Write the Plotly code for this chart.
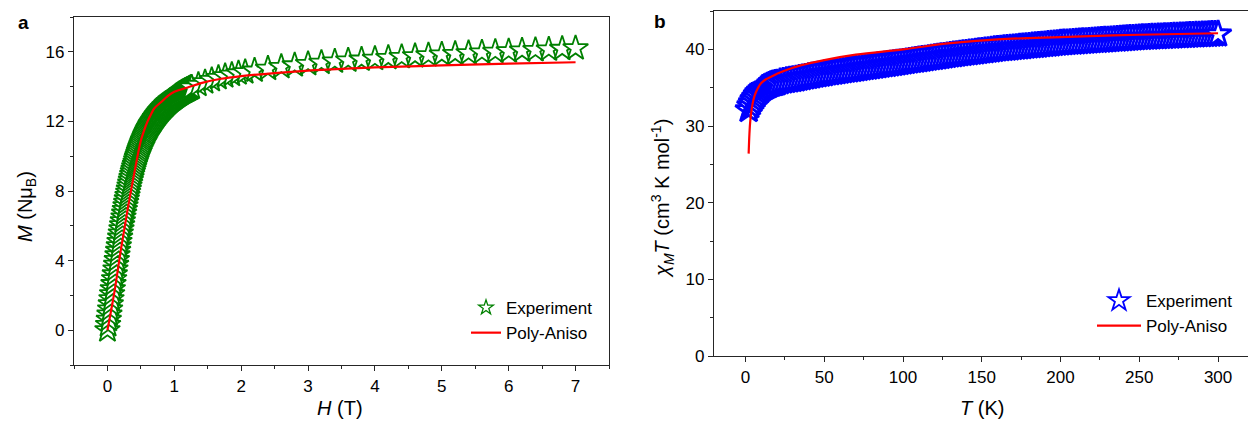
import plotly.graph_objects as go

# ---------------- Panel a: M vs H ----------------
H_exp = [0.00, 0.01, 0.02, 0.03, 0.04, 0.05, 0.06, 0.07, 0.08, 0.09,
         0.10, 0.11, 0.12, 0.13, 0.14, 0.15, 0.16, 0.17, 0.18, 0.19,
         0.20, 0.21, 0.22, 0.23, 0.24, 0.25, 0.26, 0.27, 0.28, 0.29,
         0.30, 0.31, 0.32, 0.33, 0.34, 0.35, 0.36, 0.37, 0.38, 0.39,
         0.40, 0.41, 0.42, 0.43, 0.44, 0.45, 0.46, 0.47, 0.48, 0.49,
         0.50, 0.51, 0.52, 0.53, 0.54, 0.55, 0.56, 0.57, 0.58, 0.59,
         0.60, 0.61, 0.62, 0.63, 0.64, 0.65, 0.66, 0.67, 0.68, 0.69,
         0.70, 0.71, 0.72, 0.73, 0.74, 0.75, 0.76, 0.77, 0.78, 0.79,
         0.80, 0.81, 0.82, 0.83, 0.84, 0.85, 0.86, 0.87, 0.88, 0.89,
         0.90, 0.91, 0.92, 0.93, 0.94, 0.95, 0.96, 0.97, 0.98, 0.99,
         1.00, 1.01, 1.02, 1.03, 1.04, 1.05, 1.06, 1.07, 1.08, 1.09,
         1.10, 1.11, 1.12, 1.13, 1.14, 1.15, 1.16, 1.17, 1.18, 1.19,
         1.20, 1.21, 1.22, 1.23, 1.24, 1.25, 1.26,
         1.36, 1.46, 1.56, 1.66, 1.76, 1.86, 1.96, 2.06,
         2.2, 2.4, 2.6, 2.8, 3.0, 3.2, 3.4, 3.6, 3.8, 4.0,
         4.2, 4.4, 4.6, 4.8, 5.0, 5.2, 5.4, 5.6, 5.8, 6.0,
         6.2, 6.4, 6.6, 6.8, 7.0]
M_exp = [0.00, 0.30, 0.60, 0.90, 1.19, 1.49, 1.78, 2.07, 2.36, 2.65,
         2.93, 3.21, 3.49, 3.76, 4.03, 4.30, 4.56, 4.82, 5.07, 5.32,
         5.56, 5.80, 6.03, 6.26, 6.48, 6.70, 6.91, 7.12, 7.32, 7.52,
         7.71, 7.90, 8.08, 8.26, 8.43, 8.60, 8.76, 8.92, 9.07, 9.22,
         9.36, 9.50, 9.63, 9.76, 9.89, 10.01, 10.13, 10.25, 10.36, 10.47,
         10.57, 10.67, 10.77, 10.87, 10.96, 11.05, 11.14, 11.23, 11.31, 11.39,
         11.47, 11.55, 11.62, 11.69, 11.76, 11.83, 11.89, 11.95, 12.01, 12.07,
         12.13, 12.19, 12.24, 12.30, 12.35, 12.40, 12.45, 12.50, 12.55, 12.60,
         12.64, 12.69, 12.73, 12.77, 12.81, 12.85, 12.89, 12.93, 12.97, 13.01,
         13.04, 13.08, 13.11, 13.15, 13.18, 13.21, 13.24, 13.27, 13.30, 13.33,
         13.36, 13.39, 13.42, 13.45, 13.47, 13.50, 13.52, 13.55, 13.57, 13.60,
         13.62, 13.65, 13.67, 13.69, 13.71, 13.73, 13.75, 13.77, 13.79, 13.81,
         13.83, 13.85, 13.87, 13.89, 13.91, 13.93, 13.95,
         14.10, 14.25, 14.38, 14.50, 14.60, 14.68, 14.76, 14.83,
         14.92, 15.03, 15.13, 15.22, 15.30, 15.37, 15.44, 15.50, 15.55, 15.60,
         15.65, 15.70, 15.75, 15.80, 15.84, 15.88, 15.92, 15.96, 16.00, 16.03,
         16.07, 16.10, 16.13, 16.17, 16.20]

H_fit = [0, 0.1, 0.2, 0.3, 0.4, 0.5, 0.55, 0.6, 0.65, 0.7, 0.8, 0.9, 1.0,
         1.2, 1.4, 1.7, 2.0, 2.5, 3.0, 3.5, 4.0, 5.0, 6.0, 7.0]
M_fit = [0, 2.1, 4.6, 6.9, 9.0, 10.9, 11.5, 12.0, 12.4, 12.75, 13.1, 13.45, 13.7,
         13.95, 14.2, 14.45, 14.6, 14.78, 14.92, 15.02, 15.1, 15.22, 15.32, 15.4]

# ---------------- Panel b: chiM*T vs T ----------------
T_exp = [2, 3, 4, 5, 6, 7, 8, 9, 10, 11, 12, 13, 14, 15, 16, 17, 18, 19, 20,
         22, 24, 26, 28, 30, 32, 34, 36, 38, 40, 42, 44, 46, 48, 50,
         52, 54, 56, 58, 60, 62, 64, 66, 68, 70, 72, 74, 76, 78, 80,
         82, 84, 86, 88, 90, 92, 94, 96, 98, 100,
         102, 104, 106, 108, 110, 112, 114, 116, 118, 120, 122, 124, 126,
         128, 130, 132, 134, 136, 138, 140, 142, 144, 146, 148, 150,
         152, 154, 156, 158, 160, 162, 164, 166, 168, 170, 172, 174, 176,
         178, 180, 182, 184, 186, 188, 190, 192, 194, 196, 198, 200,
         202, 204, 206, 208, 210, 212, 214, 216, 218, 220, 222, 224, 226,
         228, 230, 232, 234, 236, 238, 240, 242, 244, 246, 248, 250,
         252, 254, 256, 258, 260, 262, 264, 266, 268, 270, 272, 274, 276,
         278, 280, 282, 284, 286, 288, 290, 292, 294, 296, 298, 300]
chiT_exp = [32.1, 32.6, 33.0, 33.4, 33.7, 34.0, 34.3, 34.5, 34.7, 34.9, 35.0,
            35.1, 35.2, 35.3, 35.4, 35.45, 35.5, 35.55, 35.6,
            35.75, 35.82, 35.9, 35.97, 36.03,
            36.1, 36.2, 36.27, 36.35, 36.42, 36.5, 36.57, 36.64, 36.71, 36.78,
            36.86, 36.92, 36.98, 37.04, 37.1, 37.16, 37.22, 37.28, 37.34, 37.4,
            37.46, 37.52, 37.58, 37.64, 37.7, 37.76, 37.82, 37.88, 37.94, 38.0,
            38.06, 38.12, 38.18, 38.24, 38.3,
            38.37, 38.43, 38.49, 38.55, 38.61, 38.67, 38.73, 38.79, 38.85, 38.91,
            38.97, 39.03, 39.09, 39.15, 39.21,
            39.26, 39.31, 39.37, 39.42, 39.47, 39.52, 39.57, 39.63, 39.68, 39.73,
            39.78, 39.83, 39.89, 39.94, 39.99,
            40.03, 40.07, 40.11, 40.15, 40.19, 40.23, 40.27, 40.31, 40.35, 40.39,
            40.43, 40.47, 40.51, 40.55, 40.59, 40.63, 40.67, 40.71, 40.75, 40.79,
            40.82, 40.85, 40.87, 40.9, 40.93, 40.96, 40.99, 41.01, 41.04, 41.07,
            41.1, 41.13, 41.15, 41.18, 41.21, 41.24, 41.27, 41.29, 41.32, 41.35,
            41.38, 41.41, 41.43, 41.46, 41.49,
            41.51, 41.53, 41.55, 41.57, 41.59, 41.61, 41.63, 41.64, 41.66, 41.68,
            41.7, 41.72, 41.74, 41.76, 41.78, 41.8, 41.82, 41.83, 41.85, 41.87,
            41.89, 41.91, 41.93, 41.95, 41.97]

T_fit = [2, 2.5, 3, 4, 5, 6, 8, 10, 13, 16, 20, 26, 35, 50, 70, 100, 130, 160,
         200, 250, 300]
chiT_fit = [26.4, 29.0, 30.6, 32.3, 33.4, 34.1, 35.0, 35.6, 36.1, 36.4, 36.8,
            37.3, 37.9, 38.6, 39.3, 40.0, 40.8, 41.3, 41.6, 41.9, 42.1]

legend_names = ["Experiment", "Poly-Aniso"]

FONT = "Liberation Sans, Arial, sans-serif"
AX = "#262626"
TXT = "#000000"
GREEN = "#008000"
BLUE = "#0000FF"
RED = "#FF0000"

fig = go.Figure()

# data traces
fig.add_trace(go.Scatter(
    x=H_exp, y=M_exp, mode="markers", name=legend_names[0], showlegend=False,
    marker=dict(symbol="star", size=19, color="white",
                line=dict(color=GREEN, width=1.8)),
    xaxis="x", yaxis="y"))
fig.add_trace(go.Scatter(
    x=H_fit, y=M_fit, mode="lines", name=legend_names[1], showlegend=False,
    line=dict(color=RED, width=2.2, shape="spline"),
    xaxis="x", yaxis="y"))
fig.add_trace(go.Scatter(
    x=T_exp, y=chiT_exp, mode="markers", name=legend_names[0], showlegend=False,
    marker=dict(symbol="star", size=20, color="white",
                line=dict(color=BLUE, width=2.8)),
    xaxis="x2", yaxis="y2"))
fig.add_trace(go.Scatter(
    x=T_fit, y=chiT_fit, mode="lines", name=legend_names[1], showlegend=False,
    line=dict(color=RED, width=2.2, shape="spline"),
    xaxis="x2", yaxis="y2"))

# legend-only entries (no data points)
fig.add_trace(go.Scatter(
    x=[None], y=[None], mode="markers", name=legend_names[0],
    marker=dict(symbol="star-open", size=11, color=GREEN, line=dict(width=1.3)),
    xaxis="x", yaxis="y", legend="legend"))
fig.add_trace(go.Scatter(
    x=[None], y=[None], mode="lines", name=legend_names[1],
    line=dict(color=RED, width=2.2), xaxis="x", yaxis="y", legend="legend"))
fig.add_trace(go.Scatter(
    x=[None], y=[None], mode="markers", name=legend_names[0],
    marker=dict(symbol="star", size=16, color="white",
                line=dict(color=BLUE, width=1.8)),
    xaxis="x2", yaxis="y2", legend="legend2"))
fig.add_trace(go.Scatter(
    x=[None], y=[None], mode="lines", name=legend_names[1],
    line=dict(color=RED, width=2.2), xaxis="x2", yaxis="y2", legend="legend2"))

tickfont = dict(family=FONT, size=17, color=TXT)


def base_axis(**kw):
    d = dict(showgrid=False, zeroline=False, showline=True, linecolor=AX,
             linewidth=1.4, ticks="outside", ticklen=5, tickwidth=1.2,
             tickcolor=AX, tickfont=tickfont, mirror=True)
    d.update(kw)
    return d


def inner_axis(**kw):
    d = dict(showgrid=False, zeroline=False, showline=False,
             ticks="inside", ticklen=5, tickwidth=1.2, tickcolor=AX,
             showticklabels=False)
    d.update(kw)
    return d


xa_dom = [74 / 1248, 609 / 1248]
ya_dom = [1 - 365 / 421, 1 - 17 / 421]
xb_dom = [714 / 1248, 1.0]
yb_dom = [1 - 356 / 421, 1 - 11 / 421]


def minor_out(dt):
    return dict(ticks="outside", ticklen=3, tickwidth=1.2, tickcolor=AX, dtick=dt)


def minor_in(dt):
    return dict(ticks="inside", ticklen=3, tickwidth=1.2, tickcolor=AX, dtick=dt)


fig.update_layout(
    width=1248, height=421,
    margin=dict(l=0, r=0, t=0, b=0, autoexpand=False),
    paper_bgcolor="white", plot_bgcolor="white",
    font=dict(family=FONT, color=TXT),
    xaxis=base_axis(domain=xa_dom, anchor="y", range=[-0.5, 7.5], dtick=1,
                    tick0=0, minor=minor_out(0.5)),
    yaxis=base_axis(domain=ya_dom, anchor="x", range=[-2, 18], dtick=4,
                    tick0=0, minor=minor_out(2)),
    xaxis3=inner_axis(overlaying="x", anchor="y", side="top",
                      range=[-0.5, 7.5], dtick=1, tick0=0, minor=minor_in(0.5)),
    yaxis3=inner_axis(overlaying="y", anchor="x", side="right",
                      range=[-2, 18], dtick=4, tick0=0, minor=minor_in(2)),
    xaxis2=base_axis(domain=xb_dom, anchor="y2", range=[-20, 319], dtick=50,
                     tick0=0, minor=minor_out(25)),
    yaxis2=base_axis(domain=yb_dom, anchor="x2", range=[0, 45], dtick=10,
                     tick0=0, minor=minor_out(5), mirror=False),
    xaxis4=inner_axis(overlaying="x2", anchor="y2", side="top",
                      range=[-20, 319], dtick=50, tick0=0, minor=minor_in(25)),
    legend=dict(x=466 / 1248, y=1 - 290 / 421, xanchor="left", yanchor="top",
                bgcolor="rgba(0,0,0,0)", font=dict(family=FONT, size=17, color=TXT),
                itemsizing="trace", itemwidth=30, tracegroupgap=0),
    legend2=dict(x=1092 / 1248, y=1 - 283 / 421, xanchor="left", yanchor="top",
                 bgcolor="rgba(0,0,0,0)", font=dict(family=FONT, size=17, color=TXT),
                 itemsizing="trace", itemwidth=44, tracegroupgap=0),
    showlegend=True,
)


def note(text, px, py, size, angle=0):
    return dict(text=text, x=px / 1248, y=1 - py / 421, xref="paper", yref="paper",
                xanchor="center", yanchor="middle", showarrow=False,
                textangle=angle, font=dict(family=FONT, size=size, color=TXT))


ann = [
    note("<b>a</b>", 23, 23, 19),
    note("<b>b</b>", 660, 22, 19),
    note("<i>H</i> (T)", 340, 408, 20),
    note("<i>T</i> (K)", 982, 408, 20),
    note("<i>M</i> (Nμ<sub>B</sub>)", 26, 207, 20, -90),
    note("<i>χ<sub>M</sub>T</i> (cm<sup>3</sup> K mol<sup>-1</sup>)", 662, 199, 20, -90),
]
fig.update_layout(annotations=ann)

fig.write_html(
    "out.html",
    config={"displayModeBar": False},
    post_script="document.body.style.margin='0';document.body.style.padding='0';",
)
